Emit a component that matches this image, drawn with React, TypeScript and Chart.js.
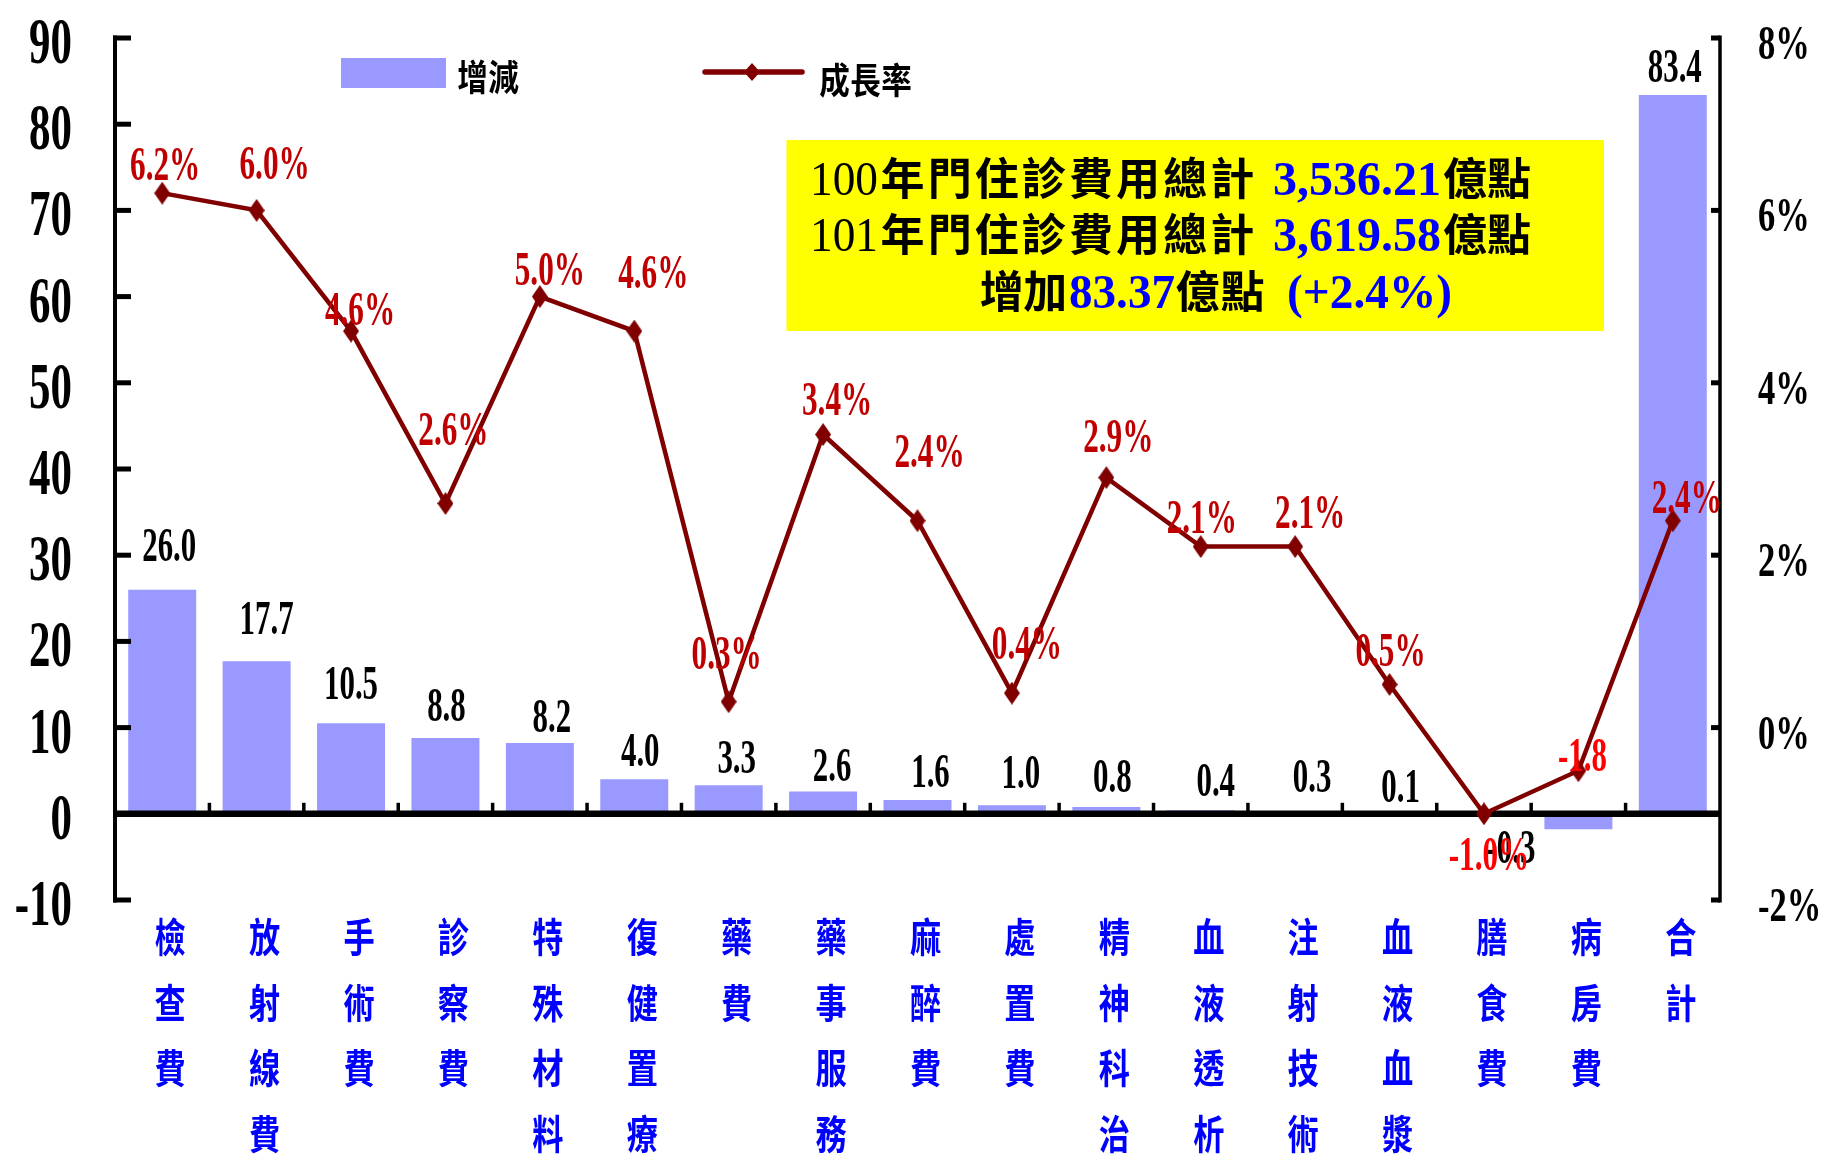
import { useEffect, useRef } from "react";
import { Chart, registerables } from "chart.js";

Chart.register(...registerables);

// ---- data ----
const categories = [
  "檢查費", "放射線費", "手術費", "診察費", "特殊材料", "復健置療", "藥費", "藥事服務",
  "麻醉費", "處置費", "精神科治", "血液透析", "注射技術", "血液血漿", "膳食費", "病房費", "合計",
];
// 增減 (億點)
const changeValues = [26.0, 17.7, 10.5, 8.8, 8.2, 4.0, 3.3, 2.6, 1.6, 1.0, 0.8, 0.4, 0.3, 0.1, -0.3, -1.8, 83.4];
// 成長率 (%)
const growthRates = [6.2, 6.0, 4.6, 2.6, 5.0, 4.6, 0.3, 3.4, 2.4, 0.4, 2.9, 2.1, 2.1, 0.5, -1.0, -0.5, 2.4];
const seriesNames = ["增減", "成長率"];
const leftTicks = [-10, 0, 10, 20, 30, 40, 50, 60, 70, 80, 90];
const rightTicks = [-2, 0, 2, 4, 6, 8];
const summaryYears = ["100", "101"];
const summaryTotals = ["3,536.21", "3,619.58"];
const summaryIncrease = "83.37";
const summaryRate = "(+2.4%)";

// ---- styles ----
const BAR_COLOR = "#9999FF";
const LINE_COLOR = "#800000";
const RATE_TEXT = "#C00000";
const ALERT_TEXT = "#FF0000";
const CAT_TEXT = "#0000FF";
const VALUE_BLUE = "#0000FF";
const SERIF = "'Liberation Serif', 'Times New Roman', serif";
const CJK = "'Noto Sans CJK TC', 'Noto Sans CJK SC', sans-serif";

// label placement: [dx, dy] from bar tip (baseline) / marker (text centre)
const BAR_LABEL_OFFSETS: [number, number][] = [
  [7, -29], [10, -27], [0, -24], [1, -17], [12, -11], [6, -13], [8, -12], [9, -10], [13, -13],
  [9, -17], [6, -15], [15, -14], [17, -19], [11, -11], [27, 47], [4, -58], [2, -13],
];
const BAR_LABEL_COLORS = changeValues.map((_, i) => (i === 15 ? ALERT_TEXT : "#000000"));
const RATE_LABEL_OFFSETS: ([number, number] | null)[] = [
  [3, -29], [18, -47], [9, -22], [8, -74], [10, -28], [19, -59], [-2, -49], [14, -36], [12, -70],
  [15, -50], [12, -42], [1, -30], [15, -35], [1, -35], [5, 40], null, [14, -24],
];
const RATE_LABEL_COLORS = growthRates.map((_, i) => (i === 14 ? ALERT_TEXT : RATE_TEXT));

function makeDiamond(w: number, h: number, color: string) {
  const c = document.createElement("canvas");
  c.width = w;
  c.height = h;
  const g = c.getContext("2d")!;
  g.fillStyle = color;
  g.beginPath();
  g.moveTo(w / 2, 0);
  g.lineTo(w, h / 2);
  g.lineTo(w / 2, h);
  g.lineTo(0, h / 2);
  g.closePath();
  g.fill();
  return c;
}

function drawText(
  ctx: CanvasRenderingContext2D, text: string, x: number, y: number, font: string, color: string,
  align: CanvasTextAlign = "left", sx = 1, baseline: CanvasTextBaseline = "alphabetic",
) {
  ctx.save();
  ctx.font = font;
  ctx.fillStyle = color;
  ctx.textAlign = align;
  ctx.textBaseline = baseline;
  ctx.translate(x, y);
  ctx.scale(sx, 1);
  ctx.fillText(text, 0, 0);
  ctx.restore();
}

function fitText(ctx: CanvasRenderingContext2D, text: string, x: number, y: number, width: number, font: string, color: string) {
  ctx.save();
  ctx.font = font;
  const w = ctx.measureText(text).width;
  ctx.restore();
  drawText(ctx, text, x, y, font, color, "left", width / w);
}

function spacedText(ctx: CanvasRenderingContext2D, text: string, x: number, y: number, pitch: number, font: string, color: string, sx = 1) {
  Array.from(text).forEach((ch, i) => drawText(ctx, ch, x + pitch * (i + 0.5), y, font, color, "center", sx));
}

function line(ctx: CanvasRenderingContext2D, x1: number, y1: number, x2: number, y2: number) {
  ctx.beginPath();
  ctx.moveTo(x1, y1);
  ctx.lineTo(x2, y2);
  ctx.stroke();
}

function drawAxes(chart: Chart) {
  const { ctx, chartArea: a } = chart;
  const y = chart.scales.y;
  const y1 = chart.scales.y1;
  const x = chart.scales.x;
  const y0 = y.getPixelForValue(0);
  ctx.save();
  ctx.strokeStyle = "#000";
  ctx.lineCap = "butt";
  // left axis + inward ticks
  ctx.lineWidth = 4;
  line(ctx, a.left, y.getPixelForValue(90) - 2.5, a.left, y.getPixelForValue(-10) + 2.5);
  ctx.lineWidth = 5;
  leftTicks.forEach((v) => {
    const py = y.getPixelForValue(v);
    line(ctx, a.left - 2, py, a.left + 16, py);
  });
  // right axis + inward ticks
  ctx.lineWidth = 3.5;
  line(ctx, a.right, y1.getPixelForValue(8) - 2.5, a.right, y1.getPixelForValue(-2) + 2.5);
  ctx.lineWidth = 5;
  rightTicks.forEach((v) => {
    const py = y1.getPixelForValue(v);
    line(ctx, a.right - 9, py, a.right, py);
  });
  // category axis on zero
  ctx.lineWidth = 6.5;
  line(ctx, a.left, y0, a.right, y0);
  ctx.lineWidth = 3.5;
  for (let k = 1; k < categories.length; k++) {
    const px = (x.getPixelForValue(k - 1) + x.getPixelForValue(k)) / 2;
    line(ctx, px, y0, px, y0 - 11);
  }
  ctx.restore();
}

function drawTexts(chart: Chart) {
  const { ctx, chartArea: a } = chart;
  const y = chart.scales.y;
  const y1 = chart.scales.y1;
  const x = chart.scales.x;

  // axis tick labels
  leftTicks.forEach((v) => {
    drawText(ctx, String(v), 72, y.getPixelForValue(v) + 25, `bold 65px ${SERIF}`, "#000", "right", 0.66);
  });
  rightTicks.forEach((v) => {
    drawText(ctx, `${v}%`, 1758, y1.getPixelForValue(v) + 21, `bold 48px ${SERIF}`, "#000", "left", 0.72);
  });

  // vertical category labels
  categories.forEach((cat, i) => {
    const px = x.getPixelForValue(i) + 8;
    Array.from(cat).forEach((ch, j) => {
      drawText(ctx, ch, px, a.bottom + 37 + j * 65.6, `bold 40px ${CJK}`, CAT_TEXT, "center", 0.78, "middle");
    });
  });

  // bar value labels
  const barMeta = chart.getDatasetMeta(0);
  changeValues.forEach((v, i) => {
    const el = barMeta.data[i] as any;
    const [dx, dy] = BAR_LABEL_OFFSETS[i];
    drawText(ctx, v.toFixed(1), el.x + dx, el.y + dy, `bold 49px ${SERIF}`, BAR_LABEL_COLORS[i], "center", 0.63);
  });

  // growth-rate labels
  const lineMeta = chart.getDatasetMeta(1);
  growthRates.forEach((v, i) => {
    const off = RATE_LABEL_OFFSETS[i];
    if (!off) return;
    const el = lineMeta.data[i] as any;
    drawText(ctx, `${v.toFixed(1)}%`, el.x + off[0], el.y + off[1] + 16, `bold 48px ${SERIF}`, RATE_LABEL_COLORS[i], "center", 0.65);
  });

  // legend
  ctx.save();
  ctx.fillStyle = BAR_COLOR;
  ctx.fillRect(341, 58, 105, 30);
  ctx.strokeStyle = LINE_COLOR;
  ctx.lineWidth = 5.5;
  ctx.lineCap = "round";
  line(ctx, 705, 72, 802, 72);
  ctx.drawImage(makeDiamond(16, 18, LINE_COLOR), 752 - 8, 72 - 9);
  ctx.restore();
  spacedText(ctx, seriesNames[0], 457, 91, 31, `bold 36px ${CJK}`, "#000", 0.85);
  spacedText(ctx, seriesNames[1], 819, 94, 31, `bold 36px ${CJK}`, "#000", 0.85);

  // summary box
  ctx.save();
  ctx.fillStyle = "#FFFF00";
  ctx.fillRect(786.5, 140, 817.5, 191);
  ctx.restore();
  const cjkBox = `bold 44px ${CJK}`;
  const baselines = [194.5, 250.5];
  summaryYears.forEach((yr, r) => {
    const b = baselines[r];
    fitText(ctx, yr, 810, b, 68, `48px ${SERIF}`, "#000");
    spacedText(ctx, "年門住診費用總計", 879, b, 47.1, cjkBox, "#000");
    fitText(ctx, summaryTotals[r], 1273, b, 168, `bold 48px ${SERIF}`, VALUE_BLUE);
    spacedText(ctx, "億點", 1443, b, 44, cjkBox, "#000");
  });
  const b3 = 308;
  spacedText(ctx, "增加", 980, b3, 43.5, cjkBox, "#000");
  fitText(ctx, summaryIncrease, 1069, b3, 106, `bold 48px ${SERIF}`, VALUE_BLUE);
  spacedText(ctx, "億點", 1175, b3, 45, cjkBox, "#000");
  fitText(ctx, summaryRate, 1287, b3, 165, `bold 48px ${SERIF}`, VALUE_BLUE);
}

const decorations = {
  id: "decorations",
  afterDatasetDraw(chart: Chart, args: { index: number }) {
    if (args.index === 0) drawAxes(chart);
  },
  afterDraw(chart: Chart) {
    drawTexts(chart);
  },
};

export default function App() {
  const ref = useRef<HTMLCanvasElement | null>(null);

  useEffect(() => {
    document.body.style.margin = "0";
    const canvas = ref.current;
    if (!canvas) return;
    const chart = new Chart(canvas, {
      type: "bar",
      data: {
        labels: categories,
        datasets: [
          {
            type: "bar",
            label: seriesNames[0],
            data: changeValues,
            backgroundColor: BAR_COLOR,
            yAxisID: "y",
            order: 1,
            barPercentage: 0.72,
            categoryPercentage: 1,
          },
          {
            type: "line",
            label: seriesNames[1],
            data: growthRates,
            borderColor: LINE_COLOR,
            backgroundColor: LINE_COLOR,
            borderWidth: 4.5,
            yAxisID: "y1",
            order: 0,
            tension: 0,
            pointStyle: makeDiamond(16, 23, LINE_COLOR) as any,
            pointRadius: 10,
          } as any,
        ],
      },
      options: {
        responsive: false,
        animation: false,
        events: [],
        layout: { padding: { left: 115, right: 104, top: 38, bottom: 258 } },
        plugins: { legend: { display: false }, tooltip: { enabled: false } },
        scales: {
          x: { display: false, offset: true },
          y: { display: false, min: -10, max: 90 },
          y1: { display: false, min: -2, max: 8, position: "right" },
        },
      },
      plugins: [decorations as any],
    });
    return () => chart.destroy();
  }, []);

  return (
    <div style={{ width: 1824, height: 1158, background: "#fff" }}>
      <canvas ref={ref} width={1824} height={1158} style={{ display: "block" }} />
    </div>
  );
}
